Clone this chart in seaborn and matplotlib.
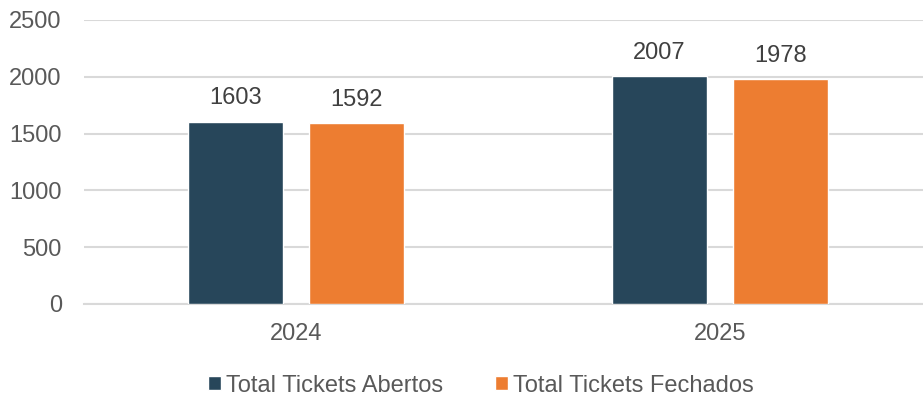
import matplotlib
matplotlib.use("Agg")
import matplotlib.pyplot as plt
import seaborn as sns
import pandas as pd

years = ["2024", "2025"]
series = ["Total Tickets Abertos", "Total Tickets Fechados"]
abertos = [1603, 2007]
fechados = [1592, 1978]
colors = ["#27465A", "#ED7D31"]

df = pd.DataFrame({
    "ano": years * 2,
    "serie": [series[0]] * 2 + [series[1]] * 2,
    "valor": abertos + fechados,
})

sns.set_style("white")
plt.rcParams["font.family"] = ["Liberation Sans", "DejaVu Sans"]
text_col = "#595959"

fig = plt.figure(figsize=(9.23, 3.97), dpi=100)
ax = fig.add_axes([84 / 923, 93 / 397, 839 / 923, 284 / 397])

sns.barplot(data=df, x="ano", y="valor", hue="serie", palette=colors,
            width=0.571, gap=0.215, ax=ax, legend=True, saturation=1, zorder=3)

for cont in ax.containers:
    ax.bar_label(cont, fmt="%d", padding=9, fontsize=17, color="#404040")

ax.set_ylim(0, 2500)
ax.set_yticks([0, 500, 1000, 1500, 2000, 2500])
ax.set_xlim(-0.5, -0.5 + 839 / 424)
ax.yaxis.grid(True, color="#D9D9D9", linewidth=1.5, zorder=0)
ax.set_axisbelow(True)
for s in ["top", "right", "left"]:
    ax.spines[s].set_visible(False)
ax.spines["bottom"].set_color("#D9D9D9")
ax.spines["bottom"].set_linewidth(1.5)
ax.tick_params(axis="both", length=0, labelsize=17, labelcolor=text_col)
ax.tick_params(axis="y", pad=16)
ax.tick_params(axis="x", pad=14)
ax.set_xlabel("")
ax.set_ylabel("")

ax.legend(loc="center", bbox_to_anchor=(0.473, -0.287),
          ncol=2, frameon=False, fontsize=17, labelcolor=text_col,
          handlelength=0.55, handleheight=0.55, handletextpad=0.2, columnspacing=2.2,
          borderpad=0.2)

fig.savefig("out.png", dpi=100)
